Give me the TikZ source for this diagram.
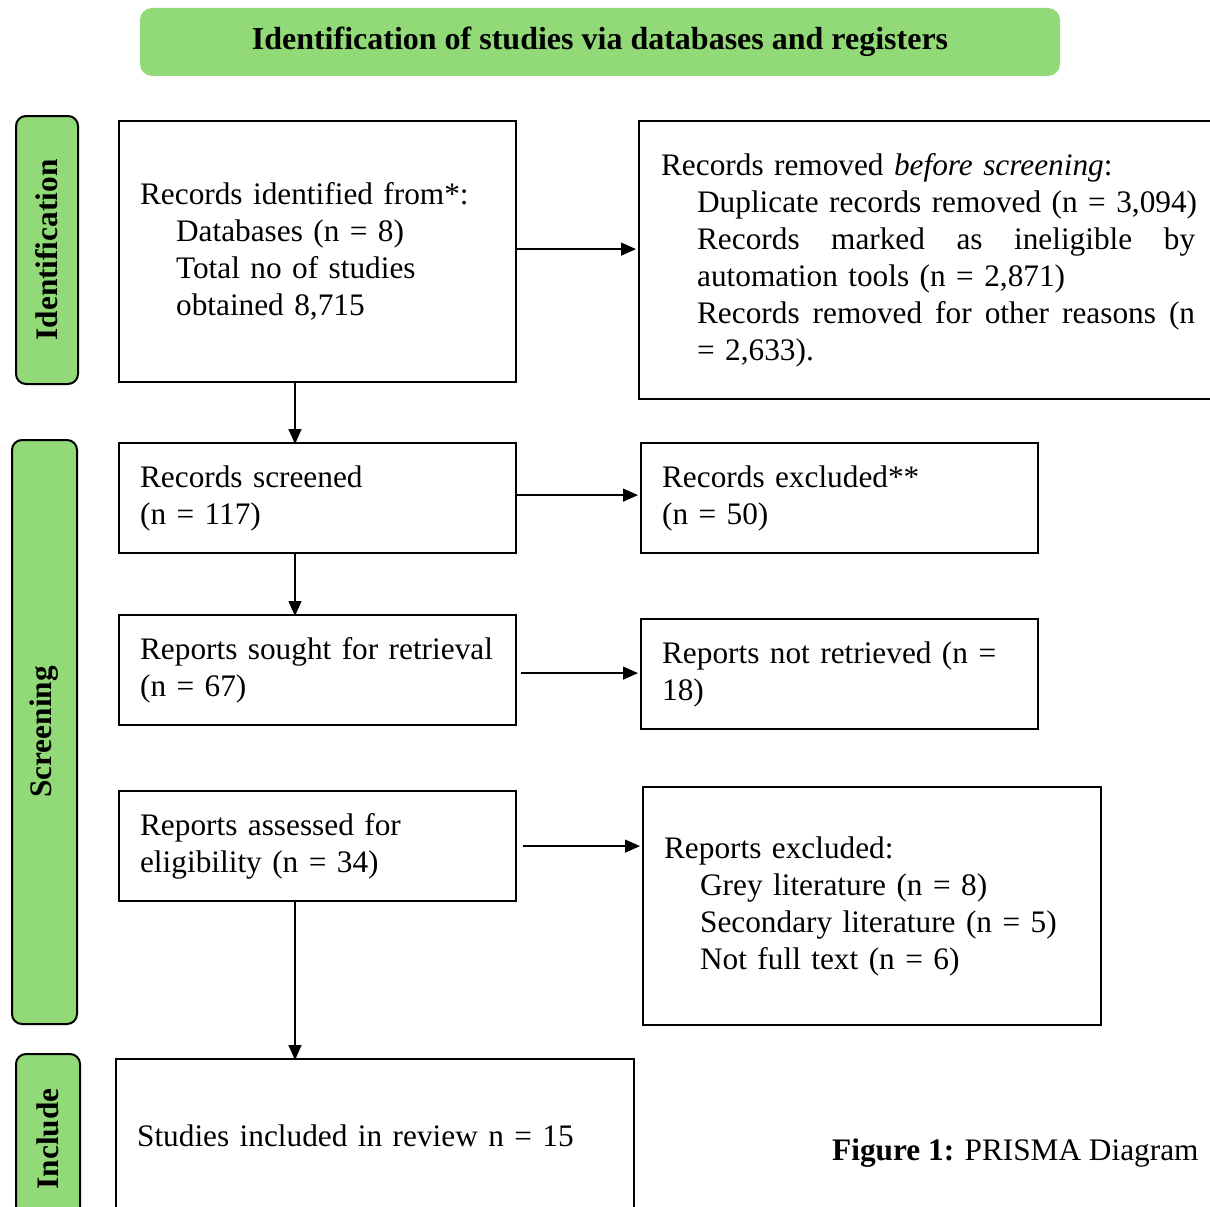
\documentclass[tikz,border=0pt]{standalone}
\usepackage{fontspec}
\setmainfont{Liberation Serif}
\usetikzlibrary{arrows.meta}
\definecolor{prgreen}{RGB}{145,218,119}
\tikzset{
  box/.style={draw=black, line width=2.2pt, rectangle, anchor=north west, align=left,
    inner xsep=21pt, inner ysep=0pt, font=\fontsize{31.3}{37}\selectfont},
  sidebox/.style={draw=black, line width=2pt, fill=prgreen, rounded corners=10pt, rotate=90,
    inner sep=0pt, font=\fontsize{31.3}{36}\selectfont\bfseries},
  banner/.style={fill=prgreen, rounded corners=12pt, inner sep=0pt,
    font=\fontsize{32}{36}\selectfont\bfseries},
  arr/.style={line width=1.3pt, -{Triangle[length=15pt,width=13pt]}},
}
\newcommand{\ind}{\hspace*{36pt}}
\begin{document}
\begin{tikzpicture}[x=1pt,y=-1pt]
\useasboundingbox (0,0) rectangle (1210,1207);
\fill[white] (0,0) rectangle (1210,1207);

\node[banner, minimum width=920pt, minimum height=68pt] (ban) at (600,42) {Identification of studies via databases and registers};

\node[sidebox, minimum width=268pt, minimum height=62pt] (sid) at (47,250) {Identification};
\node[sidebox, minimum width=584pt, minimum height=65pt] (sscr) at (44.5,732) {Screening};
\node[sidebox, minimum width=170pt, minimum height=64pt] (sinc) at (48,1139) {Include};

\node[box, minimum width=397pt, minimum height=261pt, text width=355pt] (A) at (118,120)
  {Records identified from*:\\ \ind Databases (n = 8)\\ \ind Total no of studies\\ \ind obtained 8,715};
\node[box, minimum width=600pt, minimum height=278pt, text width=556pt] (B) at (638,120)
  {Records removed \emph{before screening}:\\
   \ind Duplicate records removed (n = 3,094)\\
   \ind\hbox to 498pt{Records\hfill marked\hfill as\hfill ineligible\hfill by}\\
   \ind automation tools (n = 2,871)\\
   \ind\hbox to 498pt{Records\hfill removed\hfill for\hfill other\hfill reasons\hfill (n}\\
   \ind = 2,633).};
\node[box, minimum width=397pt, minimum height=110pt, text width=355pt] (C) at (118,442)
  {Records screened\\(n = 117)};
\node[box, minimum width=397pt, minimum height=110pt, text width=355pt] (D) at (640,442)
  {Records excluded**\\(n = 50)};
\node[box, minimum width=397pt, minimum height=110pt, text width=355pt] (E) at (118,614)
  {Reports sought for retrieval\\(n = 67)};
\node[box, minimum width=397pt, minimum height=110pt, text width=355pt] (F) at (640,618)
  {Reports not retrieved (n =\\18)};
\node[box, minimum width=397pt, minimum height=110pt, text width=355pt] (G) at (118,790)
  {Reports assessed for\\eligibility (n = 34)};
\node[box, minimum width=458pt, minimum height=238pt, text width=416pt] (H) at (642,786)
  {Reports excluded:\\ \ind Grey literature (n = 8)\\ \ind Secondary literature (n = 5)\\ \ind Not full text (n = 6)};
\node[box, minimum width=518pt, minimum height=154pt, text width=476pt] (I) at (115,1058)
  {Studies included in review n = 15};

\node[anchor=west, inner sep=0pt, font=\fontsize{31.3}{36}\selectfont] (cap) at (832,1153)
  {\textbf{Figure 1:} PRISMA Diagram};

\coordinate (vx) at (295,0);
\draw[arr] ([yshift=2.5pt]A.east) -- ([xshift=-2pt,yshift=2.5pt]A.east -| B.west);
\draw[arr] ([yshift=3pt]C.east) -- ([xshift=-2pt,yshift=3pt]C.east -| D.west);
\draw[arr] ([xshift=4pt,yshift=-3pt]E.east) -- ([xshift=-2pt,yshift=-3pt]E.east -| F.west);
\draw[arr] ([xshift=6pt]G.east) -- ([xshift=-2pt]G.east -| H.west);
\draw[arr] (vx |- A.south) -- ([yshift=-2pt]vx |- C.north);
\draw[arr] (vx |- C.south) -- ([yshift=-2pt]vx |- E.north);
\draw[arr] (vx |- G.south) -- ([yshift=-2pt]vx |- I.north);
\end{tikzpicture}
\end{document}
